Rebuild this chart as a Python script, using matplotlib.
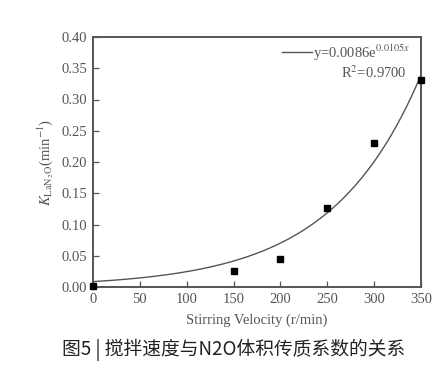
import numpy as np
import matplotlib
matplotlib.use("Agg")
import matplotlib.pyplot as plt

velocity = [0, 150, 200, 250, 300, 350]
k_values = [0.002, 0.026, 0.045, 0.126, 0.230, 0.331]
fit_a = 0.0086
fit_b = 0.0105
xticks = [0, 50, 100, 150, 200, 250, 300, 350]
yticks = [0.00, 0.05, 0.10, 0.15, 0.20, 0.25, 0.30, 0.35, 0.40]

plt.rcParams['font.family'] = ['Liberation Serif', 'DejaVu Serif']
plt.rcParams['mathtext.fontset'] = 'stix'

fig = plt.figure(figsize=(4.47, 3.72), dpi=100)
ax = fig.add_axes([93/447, 1-287/372, (421-93)/447, (287-37)/372])

xf = np.linspace(0, 350, 200)
yf = fit_a * np.exp(fit_b * xf)
ax.plot(xf, yf, color='#555555', lw=1.0)
ax.plot(velocity, k_values, 's', color='black', ms=4.3, clip_on=False, zorder=5)

ax.set_xlim(0, 350)
ax.set_ylim(0, 0.40)
ax.set_xticks(xticks)
ax.set_yticks(yticks)
ax.set_yticklabels([f"{v:.2f}" for v in yticks])
ax.tick_params(direction='in', length=4, width=0.9, labelsize=10.5, colors='#555555',
               labelcolor='#555555', pad=4)
for s in ax.spines.values():
    s.set_linewidth(1.4)
    s.set_color('#555555')

ax.set_xlabel('Stirring Velocity (r/min)', fontsize=10.5, color='#555555', labelpad=6)
ax.set_ylabel(r'$K_{\mathrm{LaN_2O}}$' + '(min$^{\mathrm{-1}}$)', fontsize=10.5,
              color='#555555', labelpad=4)

# legend-like annotation
ax.plot([(282-93)/328, (312-93)/328], [1-(52-37)/250]*2, transform=ax.transAxes,
        color='#555555', lw=1.0)
ax.text((313-93)/328, 1-(53-37)/250, r'y=0.0086e$^{0.0105x}$', transform=ax.transAxes,
        fontsize=10.5, color='#555555', va='center', ha='left')
ax.text((407-93)/328, 1-(73-37)/250, r'R$^2$=0.9700', transform=ax.transAxes, fontsize=10.5,
        color='#555555', va='center', ha='right')

fig.text(62/447, 1-350/372, '图5 | 搅拌速度与N2O体积传质系数的关系', fontsize=13.5,
         family=['Noto Sans CJK SC', 'DejaVu Sans'], color='#222222', va='center', ha='left')

fig.savefig('out.png', dpi=100, facecolor='white')
